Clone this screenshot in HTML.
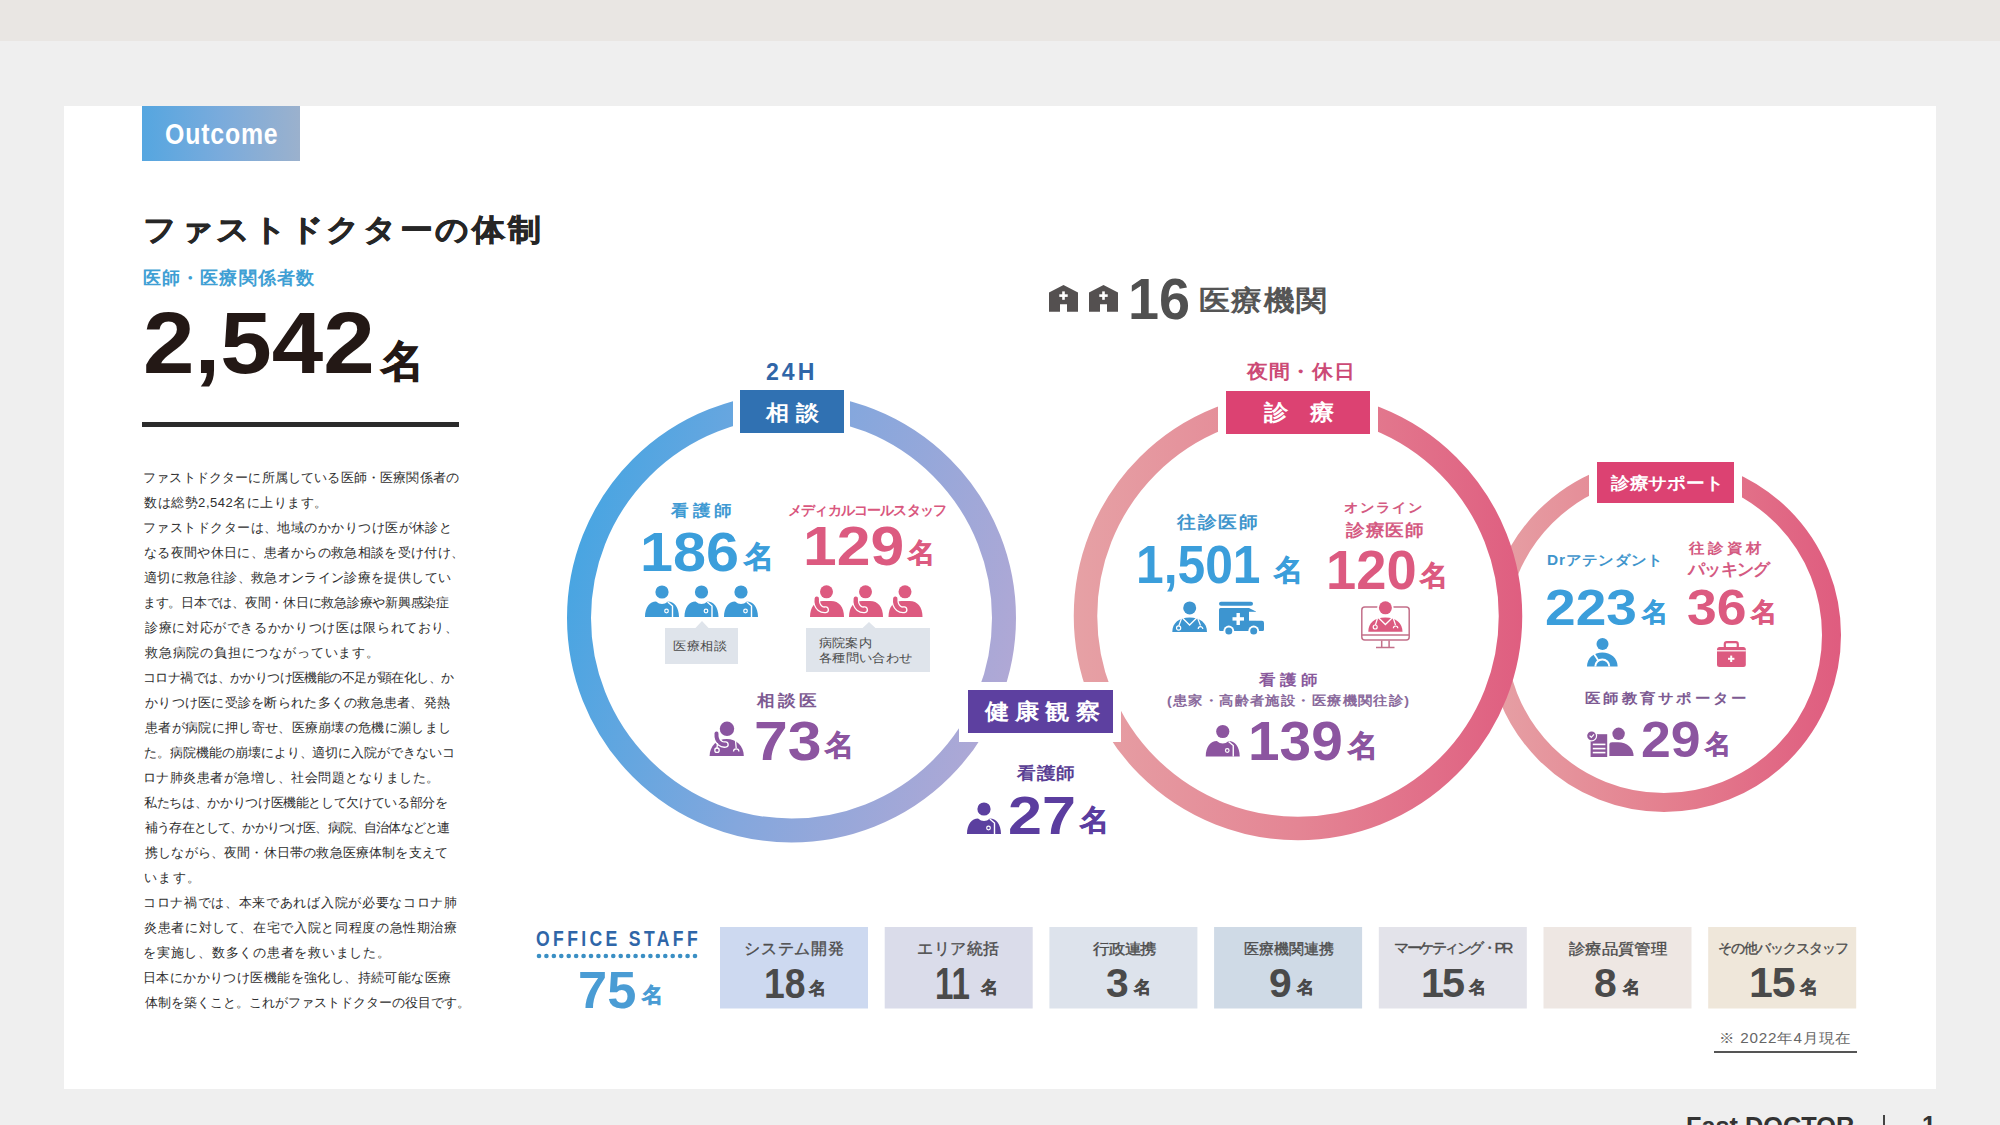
<!DOCTYPE html>
<html lang="ja"><head><meta charset="utf-8"><title>Fast DOCTOR Outcome</title>
<style>
html,body{margin:0;padding:0;}
body{width:2000px;height:1125px;overflow:hidden;position:relative;background:#efefef;font-family:"Liberation Sans",sans-serif;}
.t{position:absolute;white-space:nowrap;line-height:1;transform-origin:0 0;}
.r{position:absolute;}
</style></head><body>
<div class="r" style="left:0;top:0;width:2000px;height:41px;background:#e9e6e3"></div>
<div class="r" style="left:64px;top:106px;width:1872px;height:983px;background:#ffffff"></div>
<div class="r" style="left:142px;top:106px;width:158px;height:55px;background:linear-gradient(90deg,#55a6e0 0%,#7aabdc 50%,#9bb1cd 100%)"></div>
<div class="r" style="left:142px;top:422px;width:317px;height:5px;background:#2b2b2b"></div>
<div class="r" style="left:1714px;top:1051px;width:143px;height:2px;background:#555"></div>
<div class="r" style="left:1883px;top:1115px;width:2px;height:10px;background:#444"></div>
<svg class="r" style="left:0;top:0" width="2000" height="1125" viewBox="0 0 2000 1125">
<defs>
<linearGradient id="gL" gradientUnits="userSpaceOnUse" x1="567" y1="560" x2="1016" y2="680">
 <stop offset="0" stop-color="#47a5e2"/><stop offset="0.5" stop-color="#84a7dd"/><stop offset="1" stop-color="#b1a8d5"/></linearGradient>
<linearGradient id="gM" gradientUnits="userSpaceOnUse" x1="1074" y1="616" x2="1523" y2="616">
 <stop offset="0" stop-color="#e6a1a5"/><stop offset="0.5" stop-color="#e48594"/><stop offset="1" stop-color="#df5e80"/></linearGradient>
<linearGradient id="gR" gradientUnits="userSpaceOnUse" x1="1487" y1="635" x2="1841" y2="635">
 <stop offset="0" stop-color="#e6a1a5"/><stop offset="0.5" stop-color="#e4808f"/><stop offset="1" stop-color="#df5c7f"/></linearGradient>
<symbol id="nurse" viewBox="0 0 34 32" overflow="visible">
 <circle cx="17" cy="7" r="6.6" fill="currentColor"/>
 <path d="M0,32 C0,22 5,16.4 11,16.4 Q17,21.5 23,16.4 C29,16.4 34,22 34,32 Z" fill="currentColor"/>
 <path d="M22.8,17 L27.5,21 L27.5,32" stroke="#fff" stroke-width="1.4" fill="none"/>
 <circle cx="21.5" cy="26" r="1.8" fill="none" stroke="#fff" stroke-width="1.2"/>
</symbol>
<symbol id="phone" viewBox="0 0 34 32" overflow="visible">
 <circle cx="16.5" cy="6.8" r="6.5" fill="currentColor"/>
 <path d="M0,32 C0,22 5,16 13,16 L21,16 C29,16 34,22 34,32 Z" fill="currentColor"/>
 <path d="M6.8,13.8 Q6,20 10,23.2 Q12.5,25.2 15.5,24.8" stroke="#fff" stroke-width="7" stroke-linecap="round" fill="none"/>
 <path d="M6.8,13.8 Q6,20 10,23.2 Q12.5,25.2 15.5,24.8" stroke="currentColor" stroke-width="4.4" stroke-linecap="round" fill="none"/>
 </symbol>
<symbol id="docphone" viewBox="0 0 35 35" overflow="visible">
 <circle cx="18" cy="7.8" r="7.2" fill="currentColor"/>
 <path d="M0.6,35 C0.6,25 8,18 17.7,18 C27.4,18 34.8,25 34.8,35 Z" fill="currentColor"/>
 <path d="M7.5,12.5 Q7,19 11,22 Q13.5,24 16.5,23.5" stroke="#fff" stroke-width="6.6" stroke-linecap="round" fill="none"/>
 <path d="M7.5,12.5 Q7,19 11,22 Q13.5,24 16.5,23.5" stroke="currentColor" stroke-width="4" stroke-linecap="round" fill="none"/>
 <path d="M8.5,22 L8,27" stroke="#fff" stroke-width="1.3"/>
 <circle cx="8" cy="29.2" r="2.2" fill="none" stroke="#fff" stroke-width="1.3"/>
 <path d="M26.5,19.5 L27.2,27" stroke="#fff" stroke-width="1.3"/>
 <path d="M24.5,30.5 A2.7,2.7 0 0 1 29.9,30.5" fill="none" stroke="#fff" stroke-width="1.3"/>
</symbol>
<symbol id="doctor" viewBox="0 0 35 31" overflow="visible">
 <circle cx="17.7" cy="6.9" r="6.5" fill="currentColor"/>
 <path d="M0.3,31 C0.3,22 7,16.6 17.6,16.6 C28,16.6 35,22 35,31 Z" fill="currentColor"/>
 <path d="M10.5,17 L17.6,24 L24.7,17" stroke="#fff" stroke-width="1.3" fill="none"/>
 <path d="M9.5,17.5 L6.8,24.8" stroke="#fff" stroke-width="1.2"/>
 <circle cx="6.6" cy="27" r="2.1" fill="none" stroke="#fff" stroke-width="1.2"/>
 <path d="M25.8,17.5 L28.5,24.5" stroke="#fff" stroke-width="1.2"/>
 <path d="M26.2,28 A2.3,2.3 0 0 1 30.8,28" fill="none" stroke="#fff" stroke-width="1.2"/>
</symbol>
<symbol id="ambulance" viewBox="0 0 45 33" overflow="visible">
 <rect x="0" y="0.8" width="34" height="4" rx="2" fill="currentColor"/>
 <path d="M1.5,7 H30 L37,10.5 V19.7 H43 Q45,19.7 45,22 V28.5 Q45,30 43.5,30 H1.5 Q0,30 0,28.5 V8.5 Q0,7 1.5,7 Z" fill="currentColor"/>
 <rect x="30" y="10.8" width="7" height="8.9" fill="#fff"/>
 <rect x="13.5" y="16.2" width="11.5" height="3.4" fill="#fff"/>
 <rect x="17.5" y="12" width="3.4" height="12" fill="#fff"/>
 <circle cx="9.8" cy="30" r="5.4" fill="#fff"/><circle cx="9.8" cy="30" r="3.5" fill="currentColor"/>
 <circle cx="34.7" cy="30" r="5.4" fill="#fff"/><circle cx="34.7" cy="30" r="3.5" fill="currentColor"/>
</symbol>
<symbol id="attend" viewBox="0 0 31 29" overflow="visible">
 <circle cx="15.5" cy="6" r="6" fill="currentColor"/>
 <path d="M0,28.5 C0,20 7,14.5 15.3,14.5 C23.6,14.5 30.6,20 30.6,28.5 Z" fill="currentColor"/>
 <path d="M8.3,28.5 A7,7 0 0 1 22.3,28.5" fill="none" stroke="#fff" stroke-width="2"/>
 <path d="M6.3,14.8 L11.3,22.4" stroke="#fff" stroke-width="1.8"/>
</symbol>
<symbol id="toolbox" viewBox="0 0 29 26" overflow="visible">
 <rect x="7.8" y="1.2" width="13" height="6" rx="2" fill="none" stroke="currentColor" stroke-width="2.2"/>
 <rect x="0" y="6" width="28.8" height="20" rx="2.5" fill="currentColor"/>
 <rect x="0" y="9.2" width="28.8" height="1.2" fill="#fff"/>
 <rect x="11" y="16.8" width="6.4" height="2" fill="#fff"/>
 <rect x="13.2" y="14.6" width="2" height="6.4" fill="#fff"/>
</symbol>
<symbol id="educ" viewBox="0 0 47 29" overflow="visible">
 <rect x="3.6" y="6.2" width="16.6" height="22.8" fill="currentColor"/>
 <rect x="5.8" y="15.6" width="12.6" height="1.6" fill="#fff"/>
 <rect x="5.8" y="19.8" width="12.6" height="1.6" fill="#fff"/>
 <rect x="5.8" y="23.8" width="12.6" height="1.6" fill="#fff"/>
 <circle cx="4.6" cy="7.8" r="5.6" fill="#fff"/>
 <circle cx="4.6" cy="7.8" r="4.4" fill="currentColor"/>
 <path d="M2.6,7.6 L4.3,9.3 L7,6.4" fill="none" stroke="#fff" stroke-width="1.2"/>
 <circle cx="31.6" cy="5.8" r="6.2" fill="currentColor"/>
 <path d="M22.4,28 V16 Q22.4,14.2 25,14.2 H31 C40,14.2 46.6,20 46.6,28 Z" fill="currentColor"/>
</symbol>
<symbol id="house" viewBox="0 0 29 27" overflow="visible">
 <path d="M0,7.6 L14.5,0 L29,7.6 V26.7 H18 V19.3 H11 V26.7 H0 Z" fill="currentColor"/>
 <rect x="10.3" y="9.3" width="8.4" height="2.6" fill="#fff"/>
 <rect x="13.2" y="6.4" width="2.6" height="8.4" fill="#fff"/>
</symbol>
</defs>
<circle cx="1664" cy="635" r="167.5" fill="none" stroke="url(#gR)" stroke-width="19"/>
<circle cx="1298" cy="616" r="212" fill="#fff"/>
<circle cx="1298" cy="616" r="212.5" fill="none" stroke="url(#gM)" stroke-width="23.5"/>
<circle cx="791.5" cy="618" r="212.5" fill="none" stroke="url(#gL)" stroke-width="24"/>
<rect x="733" y="375" width="117" height="70" fill="#fff"/>
<rect x="1218" y="375" width="160" height="70" fill="#fff"/>
<rect x="1589" y="445" width="153" height="70" fill="#fff"/>
<rect x="959" y="682" width="162" height="60" fill="#fff"/>
<rect x="740" y="390" width="104" height="43" fill="#3071b2"/>
<rect x="1226" y="391" width="144" height="43" fill="#dc4272"/>
<rect x="1597" y="462" width="137" height="41" fill="#dc4272"/>
<rect x="968" y="690" width="145" height="43" fill="#5d40a0"/>
<rect x="665" y="628" width="73" height="36" fill="#dfe4eb"/><path d="M695,628.5 L702,621 L709,628.5 Z" fill="#dfe4eb"/>
<rect x="806" y="628" width="124" height="44" fill="#dfe4eb"/><path d="M862,628.5 L869,622 L876,628.5 Z" fill="#dfe4eb"/>
<rect x="720.0" y="927" width="148" height="81.5" fill="#cdd9f0"/>
<rect x="884.7" y="927" width="148" height="81.5" fill="#dadcea"/>
<rect x="1049.4" y="927" width="148" height="81.5" fill="#dde3ec"/>
<rect x="1214.1" y="927" width="148" height="81.5" fill="#cfdae6"/>
<rect x="1378.8" y="927" width="148" height="81.5" fill="#e3e3ea"/>
<rect x="1543.5" y="927" width="148" height="81.5" fill="#eee7e3"/>
<rect x="1708.2" y="927" width="148" height="81.5" fill="#efe7da"/>
<circle cx="539.00" cy="956" r="2.3" fill="#3a8fc4"/>
<circle cx="546.43" cy="956" r="2.3" fill="#3a8fc4"/>
<circle cx="553.86" cy="956" r="2.3" fill="#3a8fc4"/>
<circle cx="561.29" cy="956" r="2.3" fill="#3a8fc4"/>
<circle cx="568.71" cy="956" r="2.3" fill="#3a8fc4"/>
<circle cx="576.14" cy="956" r="2.3" fill="#3a8fc4"/>
<circle cx="583.57" cy="956" r="2.3" fill="#3a8fc4"/>
<circle cx="591.00" cy="956" r="2.3" fill="#3a8fc4"/>
<circle cx="598.43" cy="956" r="2.3" fill="#3a8fc4"/>
<circle cx="605.86" cy="956" r="2.3" fill="#3a8fc4"/>
<circle cx="613.29" cy="956" r="2.3" fill="#3a8fc4"/>
<circle cx="620.71" cy="956" r="2.3" fill="#3a8fc4"/>
<circle cx="628.14" cy="956" r="2.3" fill="#3a8fc4"/>
<circle cx="635.57" cy="956" r="2.3" fill="#3a8fc4"/>
<circle cx="643.00" cy="956" r="2.3" fill="#3a8fc4"/>
<circle cx="650.43" cy="956" r="2.3" fill="#3a8fc4"/>
<circle cx="657.86" cy="956" r="2.3" fill="#3a8fc4"/>
<circle cx="665.29" cy="956" r="2.3" fill="#3a8fc4"/>
<circle cx="672.71" cy="956" r="2.3" fill="#3a8fc4"/>
<circle cx="680.14" cy="956" r="2.3" fill="#3a8fc4"/>
<circle cx="687.57" cy="956" r="2.3" fill="#3a8fc4"/>
<circle cx="695.00" cy="956" r="2.3" fill="#3a8fc4"/>
<use href="#nurse" x="645" y="585" width="34" height="32" style="color:#3d9ad6"/>
<use href="#nurse" x="684.5" y="585" width="34" height="32" style="color:#3d9ad6"/>
<use href="#nurse" x="724" y="585" width="34" height="32" style="color:#3d9ad6"/>
<use href="#phone" x="810" y="585" width="34" height="32" style="color:#dd5a80"/>
<use href="#phone" x="849" y="585" width="34" height="32" style="color:#dd5a80"/>
<use href="#phone" x="888.5" y="585" width="34" height="32" style="color:#dd5a80"/>
<use href="#docphone" x="709" y="721" width="35" height="35" style="color:#8a55a0"/>
<use href="#nurse" x="967" y="802" width="34" height="32" style="color:#5b3f9f"/>
<use href="#nurse" x="1205.5" y="724.5" width="34.5" height="32" style="color:#8c559f"/>
<use href="#doctor" x="1172" y="601" width="35" height="31" style="color:#3d95d0"/>
<use href="#ambulance" x="1219" y="601" width="45" height="33" style="color:#3d95d0"/>
<use href="#attend" x="1587" y="638" width="31" height="29" style="color:#3d9ad6"/>
<use href="#toolbox" x="1717" y="641" width="29" height="26" style="color:#dc5a80"/>
<use href="#educ" x="1587" y="728" width="47" height="29" style="color:#8c579c"/>
<use href="#house" x="1049" y="285" width="29" height="27" style="color:#545050"/>
<use href="#house" x="1089" y="285" width="29" height="27" style="color:#545050"/>
<g transform="translate(1361,601)">
 <rect x="0.8" y="5.9" width="47.4" height="33" rx="3" fill="none" stroke="#c3708a" stroke-width="1.5"/>
 <path d="M0.8,34 H48.2" stroke="#c3708a" stroke-width="1.5"/>
 <path d="M20.7,39.6 V46.5 M28.1,39.6 V46.5 M15,46.6 H33.5" stroke="#c3708a" stroke-width="1.5" fill="none"/>
 <circle cx="24.4" cy="6.8" r="8.2" fill="#fff"/>
 <circle cx="24.4" cy="6.8" r="6.5" fill="#dc5a80"/>
 <path d="M7.3,30.8 C7.3,22 13,16.4 24.4,16.4 C35,16.4 41.5,22 41.5,30.8 Z" fill="#dc5a80"/>
 <path d="M17.5,16.8 L24.4,23.5 L31.3,16.8" stroke="#fff" stroke-width="1.3" fill="none"/>
 <path d="M16.5,17.2 L14.4,24" stroke="#fff" stroke-width="1.2"/>
 <circle cx="14.2" cy="26" r="2" fill="none" stroke="#fff" stroke-width="1.2"/>
 <path d="M32.3,17.2 L34.5,24" stroke="#fff" stroke-width="1.2"/>
 <path d="M32.4,27.2 A2.2,2.2 0 0 1 36.8,27.2" fill="none" stroke="#fff" stroke-width="1.2"/>
</g>
</svg>
<div class="t" style="left:165px;top:119px;font-size:29.58px;font-weight:700;color:#fff;letter-spacing:0.99px;transform:scaleX(0.84);">Outcome</div>
<div class="t" style="left:143px;top:215px;font-size:29.7px;font-weight:700;color:#262626;letter-spacing:2.36px;transform:scaleX(1.1);-webkit-text-stroke:0.6px currentColor;">ファストドクターの体制</div>
<div class="t" style="left:143px;top:269px;font-size:18.45px;font-weight:700;color:#3f9fd4;letter-spacing:1.12px;">医師・医療関係者数</div>
<div class="t" style="left:143px;top:299px;font-size:87.21px;font-weight:700;color:#231815;transform:scaleX(1.0613);">2,542</div>
<div class="t" style="left:381px;top:340px;font-size:42.86px;font-weight:700;color:#231815;-webkit-text-stroke:1px currentColor;">名</div>
<div class="t" style="left:766px;top:360px;font-size:24.29px;font-weight:700;color:#2f66a8;letter-spacing:3.16px;transform:scaleX(0.95);">24H</div>
<div class="t" style="left:766px;top:403px;font-size:20.59px;font-weight:700;color:#fff;letter-spacing:6.36px;transform:scaleX(1.1);">相談</div>
<div class="t" style="left:1247px;top:363px;font-size:18.63px;font-weight:700;color:#cc4a76;letter-spacing:0.68px;transform:scaleX(1.1);">夜間・休日</div>
<div class="t" style="left:1264px;top:402px;font-size:21.57px;font-weight:700;color:#fff;letter-spacing:20.0px;transform:scaleX(1.1);">診療</div>
<div class="t" style="left:1128px;top:271px;font-size:57.75px;font-weight:700;color:#505050;transform:scaleX(0.9655);">16</div>
<div class="t" style="left:1199px;top:286px;font-size:28.43px;font-weight:700;color:#555;letter-spacing:1.52px;transform:scaleX(1.1);">医療機関</div>
<div class="t" style="left:671px;top:503px;font-size:16.0px;font-weight:700;color:#3f9ad3;letter-spacing:3.64px;transform:scaleX(1.1);">看護師</div>
<div class="t" style="left:640px;top:525px;font-size:54.93px;font-weight:700;color:#3b9edb;transform:scaleX(1.0805);">186</div>
<div class="t" style="left:744px;top:542px;font-size:29.59px;font-weight:700;color:#3b9edb;letter-spacing:-1.0px;-webkit-text-stroke:0.6px currentColor;">名</div>
<div class="t" style="left:788px;top:503px;font-size:13.98px;font-weight:700;color:#d9577e;letter-spacing:-0.82px;">メディカルコールスタッフ</div>
<div class="t" style="left:803px;top:519px;font-size:54.93px;font-weight:700;color:#dc5a80;transform:scaleX(1.1034);">129</div>
<div class="t" style="left:908px;top:540px;font-size:26.53px;font-weight:700;color:#dc5a80;letter-spacing:1.0px;-webkit-text-stroke:0.6px currentColor;">名</div>
<div class="t" style="left:673px;top:640px;font-size:12px;font-weight:400;color:#4a4a4a;letter-spacing:0.3px;transform:scaleX(1.1);">医療相談</div>
<div class="t" style="left:819px;top:637px;font-size:12px;font-weight:400;color:#4a4a4a;transform:scaleX(1.1);">病院案内</div>
<div class="t" style="left:819px;top:652px;font-size:12px;font-weight:400;color:#4a4a4a;letter-spacing:0.15px;transform:scaleX(1.1);">各種問い合わせ</div>
<div class="t" style="left:757px;top:693px;font-size:15.69px;font-weight:700;color:#7d5a92;letter-spacing:3.18px;transform:scaleX(1.1);">相談医</div>
<div class="t" style="left:754px;top:714px;font-size:54.93px;font-weight:700;color:#8c55a0;transform:scaleX(1.1053);">73</div>
<div class="t" style="left:825px;top:731px;font-size:28.57px;font-weight:700;color:#8c55a0;letter-spacing:1.0px;-webkit-text-stroke:0.6px currentColor;">名</div>
<div class="t" style="left:985px;top:701px;font-size:21.57px;font-weight:700;color:#fff;letter-spacing:5.45px;transform:scaleX(1.1);">健康観察</div>
<div class="t" style="left:1017px;top:765px;font-size:17.0px;font-weight:700;color:#5a3f94;letter-spacing:0.91px;transform:scaleX(1.1);">看護師</div>
<div class="t" style="left:1008px;top:789px;font-size:54.29px;font-weight:700;color:#5b3d9f;transform:scaleX(1.125);">27</div>
<div class="t" style="left:1080px;top:806px;font-size:28.57px;font-weight:700;color:#5b3d9f;-webkit-text-stroke:0.6px currentColor;">名</div>
<div class="t" style="left:1177px;top:514px;font-size:17.0px;font-weight:700;color:#3f95cc;letter-spacing:1.82px;transform:scaleX(1.1);">往診医師</div>
<div class="t" style="left:1136px;top:538px;font-size:53.49px;font-weight:700;color:#3b9edb;transform:scaleX(0.9302);">1,501</div>
<div class="t" style="left:1274px;top:556px;font-size:28.57px;font-weight:700;color:#3b9edb;letter-spacing:1.0px;-webkit-text-stroke:0.6px currentColor;">名</div>
<div class="t" style="left:1344px;top:501px;font-size:13.19px;font-weight:700;color:#d45a82;letter-spacing:1.59px;transform:scaleX(1.1);">オンライン</div>
<div class="t" style="left:1346px;top:523px;font-size:16.67px;font-weight:700;color:#d45a82;letter-spacing:0.91px;transform:scaleX(1.1);">診療医師</div>
<div class="t" style="left:1326px;top:543px;font-size:54.93px;font-weight:700;color:#dc5a80;transform:scaleX(0.9884);">120</div>
<div class="t" style="left:1420px;top:562px;font-size:27.55px;font-weight:700;color:#dc5a80;letter-spacing:1.0px;-webkit-text-stroke:0.6px currentColor;">名</div>
<div class="t" style="left:1259px;top:672px;font-size:15.0px;font-weight:700;color:#8a5a9c;letter-spacing:4.09px;transform:scaleX(1.1);">看護師</div>
<div class="t" style="left:1167px;top:695px;font-size:12.96px;font-weight:700;color:#8a6a9c;letter-spacing:1.02px;transform:scaleX(1.1);">(患家・高齢者施設・医療機関往診)</div>
<div class="t" style="left:1248px;top:714px;font-size:54.93px;font-weight:700;color:#8c55a0;transform:scaleX(1.0345);">139</div>
<div class="t" style="left:1348px;top:731px;font-size:29.59px;font-weight:700;color:#8c55a0;letter-spacing:-1.0px;-webkit-text-stroke:0.6px currentColor;">名</div>
<div class="t" style="left:1611px;top:475px;font-size:16.5px;font-weight:700;color:#fff;transform:scaleX(1.1);">診療サポート</div>
<div class="t" style="left:1547px;top:553px;font-size:14.0px;font-weight:700;color:#3f95cc;letter-spacing:0.78px;transform:scaleX(1.1);">Drアテンダント</div>
<div class="t" style="left:1545px;top:583px;font-size:50.7px;font-weight:700;color:#3b9edb;transform:scaleX(1.0864);">223</div>
<div class="t" style="left:1642px;top:600px;font-size:25.51px;font-weight:700;color:#3b9edb;letter-spacing:-2.0px;-webkit-text-stroke:0.6px currentColor;">名</div>
<div class="t" style="left:1689px;top:541px;font-size:14.42px;font-weight:700;color:#d45a82;letter-spacing:3.33px;transform:scaleX(1.1);">往診資材</div>
<div class="t" style="left:1688px;top:562px;font-size:16.84px;font-weight:700;color:#d45a82;letter-spacing:-0.75px;">パッキング</div>
<div class="t" style="left:1687px;top:583px;font-size:50.7px;font-weight:700;color:#dc5a80;transform:scaleX(1.0556);">36</div>
<div class="t" style="left:1751px;top:600px;font-size:25.51px;font-weight:700;color:#dc5a80;-webkit-text-stroke:0.6px currentColor;">名</div>
<div class="t" style="left:1585px;top:691px;font-size:14.29px;font-weight:700;color:#7d5a92;letter-spacing:2.61px;transform:scaleX(1.1);">医師教育サポーター</div>
<div class="t" style="left:1641px;top:715px;font-size:50.7px;font-weight:700;color:#8c55a0;transform:scaleX(1.0566);">29</div>
<div class="t" style="left:1705px;top:732px;font-size:25.51px;font-weight:700;color:#8c55a0;-webkit-text-stroke:0.6px currentColor;">名</div>
<div class="t" style="left:536px;top:928px;font-size:22.54px;font-weight:700;color:#2f66a8;letter-spacing:4.31px;transform:scaleX(0.78);">OFFICE STAFF</div>
<div class="t" style="left:578px;top:965px;font-size:51.43px;font-weight:700;color:#4a9cd4;transform:scaleX(1.0185);">75</div>
<div class="t" style="left:642px;top:985px;font-size:21.43px;font-weight:700;color:#4a9cd4;-webkit-text-stroke:0.6px currentColor;">名</div>
<div class="t" style="left:744px;top:941px;font-size:15.96px;font-weight:500;color:#4d4d4d;letter-spacing:0.8px;-webkit-text-stroke:0.35px currentColor;">システム開発</div>
<div class="t" style="left:764px;top:963px;font-size:42.25px;font-weight:700;color:#4a4a4a;transform:scaleX(0.8837);">18</div>
<div class="t" style="left:809px;top:980px;font-size:17.35px;font-weight:700;color:#4a4a4a;-webkit-text-stroke:0.5px currentColor;">名</div>
<div class="t" style="left:917px;top:941px;font-size:15.62px;font-weight:500;color:#4d4d4d;letter-spacing:0.5px;-webkit-text-stroke:0.35px currentColor;">エリア統括</div>
<div class="t" style="left:935px;top:963px;font-size:43.48px;font-weight:700;color:#4a4a4a;transform:scaleX(0.7619);">11</div>
<div class="t" style="left:981px;top:979px;font-size:17.35px;font-weight:700;color:#4a4a4a;-webkit-text-stroke:0.5px currentColor;">名</div>
<div class="t" style="left:1093px;top:941px;font-size:15.31px;font-weight:500;color:#4d4d4d;letter-spacing:-0.61px;transform:scaleX(1.1);-webkit-text-stroke:0.35px currentColor;">行政連携</div>
<div class="t" style="left:1106px;top:963px;font-size:40.85px;font-weight:700;color:#4a4a4a;">3</div>
<div class="t" style="left:1134px;top:979px;font-size:17.35px;font-weight:700;color:#4a4a4a;-webkit-text-stroke:0.5px currentColor;">名</div>
<div class="t" style="left:1244px;top:941px;font-size:15.15px;font-weight:500;color:#4d4d4d;-webkit-text-stroke:0.35px currentColor;">医療機関連携</div>
<div class="t" style="left:1269px;top:963px;font-size:40.85px;font-weight:700;color:#4a4a4a;">9</div>
<div class="t" style="left:1297px;top:979px;font-size:17.35px;font-weight:700;color:#4a4a4a;-webkit-text-stroke:0.5px currentColor;">名</div>
<div class="t" style="left:1394px;top:940px;font-size:15.38px;font-weight:500;color:#4d4d4d;letter-spacing:-2.44px;-webkit-text-stroke:0.35px currentColor;">マーケティング・PR</div>
<div class="t" style="left:1421px;top:962px;font-size:41.43px;font-weight:700;color:#4a4a4a;letter-spacing:-2.0px;">15</div>
<div class="t" style="left:1469px;top:979px;font-size:17.35px;font-weight:700;color:#4a4a4a;-webkit-text-stroke:0.5px currentColor;">名</div>
<div class="t" style="left:1569px;top:942px;font-size:14.56px;font-weight:500;color:#4d4d4d;letter-spacing:-0.18px;transform:scaleX(1.1);-webkit-text-stroke:0.35px currentColor;">診療品質管理</div>
<div class="t" style="left:1594px;top:963px;font-size:40.85px;font-weight:700;color:#4a4a4a;">8</div>
<div class="t" style="left:1623px;top:979px;font-size:17.35px;font-weight:700;color:#4a4a4a;-webkit-text-stroke:0.5px currentColor;">名</div>
<div class="t" style="left:1718px;top:941px;font-size:14.43px;font-weight:500;color:#4d4d4d;letter-spacing:-1.0px;-webkit-text-stroke:0.35px currentColor;">その他バックスタッフ</div>
<div class="t" style="left:1749px;top:961px;font-size:42.86px;font-weight:700;color:#4a4a4a;letter-spacing:-1.0px;">15</div>
<div class="t" style="left:1800px;top:978px;font-size:18.37px;font-weight:700;color:#4a4a4a;letter-spacing:-1.0px;-webkit-text-stroke:0.5px currentColor;">名</div>
<div class="t" style="left:1719px;top:1032px;font-size:13.83px;font-weight:400;color:#666;letter-spacing:0.73px;transform:scaleX(1.1);">※ 2022年4月現在</div>
<div class="t" style="left:1686px;top:1114px;font-size:25px;font-weight:700;color:#333;transform:scaleX(1.0122);">Fast DOCTOR</div>
<div class="t" style="left:1922px;top:1113px;font-size:25px;font-weight:700;color:#333;">1</div>
<div class="t" style="left:143px;top:471px;font-size:13px;font-weight:400;color:#2e2e2e;letter-spacing:0.17px;">ファストドクターに所属している医師・医療関係者の</div>
<div class="t" style="left:144px;top:496px;font-size:13px;font-weight:400;color:#2e2e2e;letter-spacing:0.53px;">数は総勢2,542名に上ります。</div>
<div class="t" style="left:143px;top:521px;font-size:13px;font-weight:400;color:#2e2e2e;letter-spacing:0.45px;">ファストドクターは、地域のかかりつけ医が休診と</div>
<div class="t" style="left:144px;top:546px;font-size:13px;font-weight:400;color:#2e2e2e;letter-spacing:0.35px;">なる夜間や休日に、患者からの救急相談を受け付け、</div>
<div class="t" style="left:144px;top:571px;font-size:13px;font-weight:400;color:#2e2e2e;letter-spacing:0.36px;">適切に救急往診、救急オンライン診療を提供してい</div>
<div class="t" style="left:143px;top:596px;font-size:13px;font-weight:400;color:#2e2e2e;letter-spacing:-0.26px;">ます。日本では、夜間・休日に救急診療や新興感染症</div>
<div class="t" style="left:145px;top:621px;font-size:13px;font-weight:400;color:#2e2e2e;letter-spacing:0.64px;">診療に対応ができるかかりつけ医は限られており、</div>
<div class="t" style="left:145px;top:646px;font-size:13px;font-weight:400;color:#2e2e2e;letter-spacing:0.81px;">救急病院の負担につながっています。</div>
<div class="t" style="left:143px;top:671px;font-size:13px;font-weight:400;color:#2e2e2e;letter-spacing:-0.58px;">コロナ禍では、かかりつけ医機能の不足が顕在化し、か</div>
<div class="t" style="left:145px;top:696px;font-size:13px;font-weight:400;color:#2e2e2e;letter-spacing:0.27px;">かりつけ医に受診を断られた多くの救急患者、発熱</div>
<div class="t" style="left:145px;top:721px;font-size:13px;font-weight:400;color:#2e2e2e;letter-spacing:0.32px;">患者が病院に押し寄せ、医療崩壊の危機に瀕しまし</div>
<div class="t" style="left:144px;top:746px;font-size:13px;font-weight:400;color:#2e2e2e;letter-spacing:-0.04px;">た。病院機能の崩壊により、適切に入院ができないコ</div>
<div class="t" style="left:143px;top:771px;font-size:13px;font-weight:400;color:#2e2e2e;letter-spacing:0.48px;">ロナ肺炎患者が急増し、社会問題となりました。</div>
<div class="t" style="left:144px;top:796px;font-size:13px;font-weight:400;color:#2e2e2e;letter-spacing:-0.35px;">私たちは、かかりつけ医機能として欠けている部分を</div>
<div class="t" style="left:145px;top:821px;font-size:13px;font-weight:400;color:#2e2e2e;letter-spacing:-0.83px;">補う存在として、かかりつけ医、病院、自治体などと連</div>
<div class="t" style="left:145px;top:846px;font-size:13px;font-weight:400;color:#2e2e2e;letter-spacing:0.18px;">携しながら、夜間・休日帯の救急医療体制を支えて</div>
<div class="t" style="left:144px;top:871px;font-size:13px;font-weight:400;color:#2e2e2e;letter-spacing:1.33px;">います。</div>
<div class="t" style="left:143px;top:896px;font-size:13px;font-weight:400;color:#2e2e2e;letter-spacing:0.68px;">コロナ禍では、本来であれば入院が必要なコロナ肺</div>
<div class="t" style="left:144px;top:921px;font-size:13px;font-weight:400;color:#2e2e2e;letter-spacing:0.64px;">炎患者に対して、在宅で入院と同程度の急性期治療</div>
<div class="t" style="left:143px;top:946px;font-size:13px;font-weight:400;color:#2e2e2e;letter-spacing:0.76px;">を実施し、数多くの患者を救いました。</div>
<div class="t" style="left:143px;top:971px;font-size:13px;font-weight:400;color:#2e2e2e;letter-spacing:0.41px;">日本にかかりつけ医機能を強化し、持続可能な医療</div>
<div class="t" style="left:145px;top:996px;font-size:13px;font-weight:400;color:#2e2e2e;">体制を築くこと。これがファストドクターの役目です。</div>
</body></html>
